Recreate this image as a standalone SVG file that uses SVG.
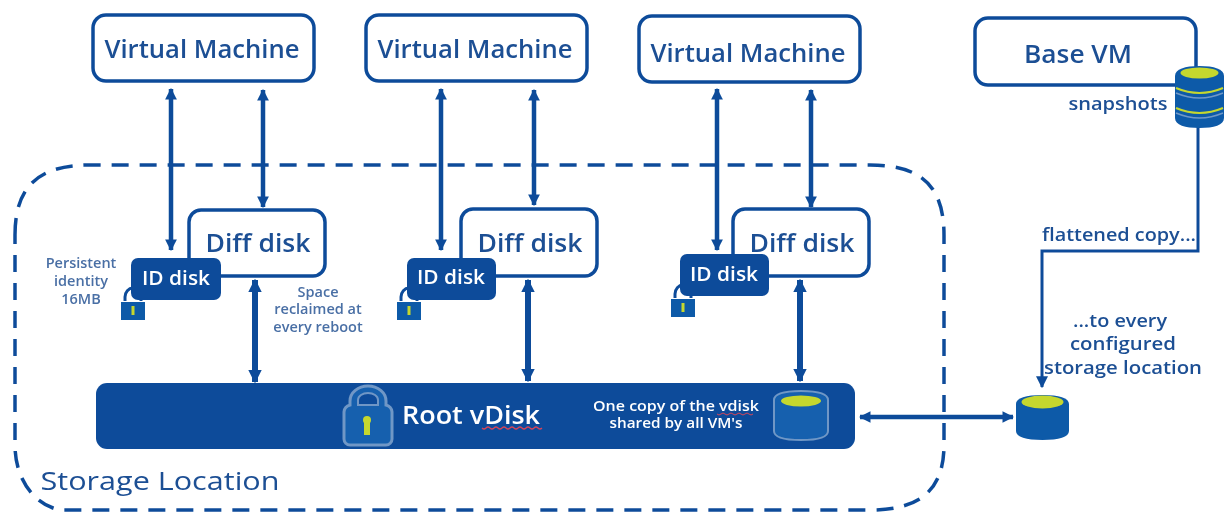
<svg xmlns="http://www.w3.org/2000/svg" width="1225" height="512" viewBox="0 0 1225 512">
<defs>
<style>
text{font-family:"Open Sans","Liberation Sans",sans-serif;text-anchor:middle;fill:#1d4f94}
.box{fill:#fff;stroke:#0f4c9a;stroke-width:3.5}
.id{fill:#0f4c9a}
.big{font-size:25px;font-weight:600}
.w{fill:#fff}
.small{font-size:14.500px;font-weight:600;fill:#4a6fa5}
.arrow{fill:none;stroke:#0f4c9a;stroke-width:4.500;marker-start:url(#h);marker-end:url(#h)}
.fat{stroke-width:6;marker-start:url(#f);marker-end:url(#f)}
.thin{fill:none;stroke:#0f4c9a;stroke-width:3}
</style>
<filter id="soft" filterUnits="userSpaceOnUse" x="0" y="0" width="1225" height="512"><feGaussianBlur stdDeviation="0.5"/></filter>
<marker id="h" viewBox="0 0 10 10" refX="9" refY="5" markerWidth="2.600" markerHeight="2.800" orient="auto-start-reverse"><path d="M0 0L10 5L0 10z" fill="#0f4c9a"/></marker>
<marker id="f" viewBox="0 0 10 10" refX="9" refY="5" markerWidth="2.300" markerHeight="2.700" orient="auto-start-reverse"><path d="M0 0L10 5L0 10z" fill="#0f4c9a"/></marker>
<marker id="h2" viewBox="0 0 10 10" refX="9" refY="5" markerWidth="4" markerHeight="4" orient="auto"><path d="M0 0L10 5L0 10z" fill="#0f4c9a"/></marker>
<g id="lock"><path d="M-8-5v-4a8 9 0 0 1 16 0v4" fill="#fff" stroke="#0f4c9a" stroke-width="3"/><rect x="-12" y="-4" width="24" height="18" fill="#0f5aa8"/><rect x="-1.500" y="0" width="3" height="9" fill="#c5d72e"/></g>
</defs>
<g filter="url(#soft)">
<path id="storage" d="M15 235C15 185 40 165 90 165H870C920 165 944 185 944 235V445C944 490 920 510 870 510H60C35 505 15 480 15 445Z" fill="none" stroke="#0f4c9a" stroke-width="3.500" stroke-dasharray="17 11"/>
<g id="connectors">
<path class="arrow" d="M171 89V250"/><path class="arrow" d="M263 90V207"/>
<path class="arrow" d="M441 89V250"/><path class="arrow" d="M534 90V205"/>
<path class="arrow" d="M717 89V250"/><path class="arrow" d="M811 90V207"/>
<path class="arrow fat" d="M255 280V382"/><path class="arrow fat" d="M528 280V381"/><path class="arrow fat" d="M800 280V381"/>
<path class="arrow" d="M860 417H1013"/>
<path class="thin" d="M1198 126V251H1042V387" marker-end="url(#h2)"/>
</g>
<g id="vm1"><rect class="box" x="93" y="15" width="221" height="66" rx="13"/><text class="big" x="202" y="58" textLength="195" lengthAdjust="spacingAndGlyphs">Virtual Machine</text></g>
<g id="vm2"><rect class="box" x="366" y="15" width="221" height="66" rx="13"/><text class="big" x="475" y="58" textLength="195" lengthAdjust="spacingAndGlyphs">Virtual Machine</text></g>
<g id="vm3"><rect class="box" x="639" y="16" width="221" height="66" rx="13"/><text class="big" x="748" y="62" textLength="195" lengthAdjust="spacingAndGlyphs">Virtual Machine</text></g>
<g id="basevm"><rect class="box" x="975" y="18" width="221" height="67" rx="13"/><text class="big" x="1078" y="63" textLength="108" lengthAdjust="spacingAndGlyphs">Base VM</text></g>
<g id="diff1"><rect class="box" x="189" y="210" width="136" height="66" rx="12"/><text class="big" x="258" y="252" textLength="105" lengthAdjust="spacingAndGlyphs">Diff disk</text></g>
<g id="diff2"><rect class="box" x="461" y="209" width="136" height="67" rx="12"/><text class="big" x="530" y="252" textLength="105" lengthAdjust="spacingAndGlyphs">Diff disk</text></g>
<g id="diff3"><rect class="box" x="733" y="209" width="136" height="67" rx="12"/><text class="big" x="802" y="252" textLength="105" lengthAdjust="spacingAndGlyphs">Diff disk</text></g>
<g id="id1"><use href="#lock" x="133" y="306"/><rect class="id" x="131" y="258" width="90" height="42" rx="7"/><text class="w" x="176" y="285" font-size="20" font-weight="600" textLength="68" lengthAdjust="spacingAndGlyphs">ID disk</text></g>
<g id="id2"><use href="#lock" x="409" y="306"/><rect class="id" x="407" y="258" width="89" height="42" rx="7"/><text class="w" x="451" y="284" font-size="20" font-weight="600" textLength="68" lengthAdjust="spacingAndGlyphs">ID disk</text></g>
<g id="id3"><use href="#lock" x="683" y="303"/><rect class="id" x="680" y="254" width="89" height="42" rx="7"/><text class="w" x="724" y="281" font-size="20" font-weight="600" textLength="68" lengthAdjust="spacingAndGlyphs">ID disk</text></g>
<g id="root"><rect class="id" x="96" y="383" width="759" height="66" rx="11"/>
<path d="M350 445a6 6 0 0 1-6-6v-27a8 8 0 0 1 6-7v-4a18 15 0 0 1 36 0v4a8 8 0 0 1 6 7v27a6 6 0 0 1-6 6z" fill="#1560ae" stroke="#6f97c6" stroke-width="3"/>
<path d="M358 405v-5a10 7 0 0 1 20 0v5z" fill="#0f4c9a" stroke="#6f97c6" stroke-width="2"/>
<circle cx="367" cy="420" r="4" fill="#c5d72e"/><rect x="364" y="421" width="6" height="14" fill="#c5d72e"/>
<text class="w" x="471" y="424" font-size="25" font-weight="600" textLength="138" lengthAdjust="spacingAndGlyphs">Root vDisk</text>
<path d="M482 428q2 2 4 0t4 0t4 0t4 0t4 0t4 0t4 0t4 0t4 0t4 0t4 0t4 0t4 0t4 0t4 0" fill="none" stroke="#d2455a" stroke-width="1.200"/>
<text class="w" x="676" y="411" font-size="14" font-weight="600" textLength="166" lengthAdjust="spacingAndGlyphs">One copy of the vdisk</text>
<text class="w" x="676" y="428" font-size="14" font-weight="600" textLength="133" lengthAdjust="spacingAndGlyphs">shared by all VM's</text>
<path d="M717 414q2 2 4 0t4 0t4 0t4 0t4 0t4 0t4 0t4 0t4 0" fill="none" stroke="#d2455a" stroke-width="1"/>
<path d="M774 400c0-6 10-9 27-9s27 3 27 9v31c0 6-10 9-27 9s-27-3-27-9z" fill="#1560ae" stroke="#6f97c6" stroke-width="2"/>
<ellipse cx="801" cy="401" rx="20" ry="5.500" fill="#c5d72e"/></g>
<g id="cyl"><path d="M1016 404c0-6 10-9 26.500-9s26.500 3 26.500 9v27c0 6-10 9-26.500 9s-26.500-3-26.500-9z" fill="#0f5aa8"/><ellipse cx="1042.500" cy="402" rx="21" ry="6.500" fill="#c5d72e"/></g>
<g id="snapshots"><path d="M1175 76c0-7 10-10 24.500-10s24.500 3 24.500 10v42c0 7-10 10-24.500 10s-24.500-3-24.500-10z" fill="#0f5aa8"/><ellipse cx="1199.500" cy="73" rx="19" ry="5.500" fill="#c5d72e"/><path d="M1176 88q23.500 10 47 0M1176 108q23.500 10 47 0" fill="none" stroke="#c5d72e" stroke-width="2"/><path d="M1176 93q23.500 10 47 0M1176 113q23.500 10 47 0" fill="none" stroke="#6f97c6" stroke-width="1.500"/></g>
<g id="labels">
<text class="small" x="81" y="268">Persistent</text><text class="small" x="81" y="286">identity</text><text class="small" x="81" y="304">16MB</text>
<text class="small" x="318" y="297">Space</text><text class="small" x="318" y="314">reclaimed at</text><text class="small" x="318" y="332">every reboot</text>
<text x="1118" y="110" font-size="18" font-weight="600" textLength="99" lengthAdjust="spacingAndGlyphs">snapshots</text>
<text x="1119" y="241" font-size="18" font-weight="600" textLength="154" lengthAdjust="spacingAndGlyphs">flattened copy...</text>
<text x="1120" y="327" font-size="18" font-weight="600" textLength="94" lengthAdjust="spacingAndGlyphs">...to every</text>
<text x="1123" y="350" font-size="18" font-weight="600" textLength="106" lengthAdjust="spacingAndGlyphs">configured</text>
<text x="1123" y="374" font-size="18" font-weight="600" textLength="158" lengthAdjust="spacingAndGlyphs">storage location</text>
<text x="160" y="490" font-size="26" font-weight="500" textLength="239" lengthAdjust="spacingAndGlyphs">Storage Location</text>
</g>
</g>
</svg>
